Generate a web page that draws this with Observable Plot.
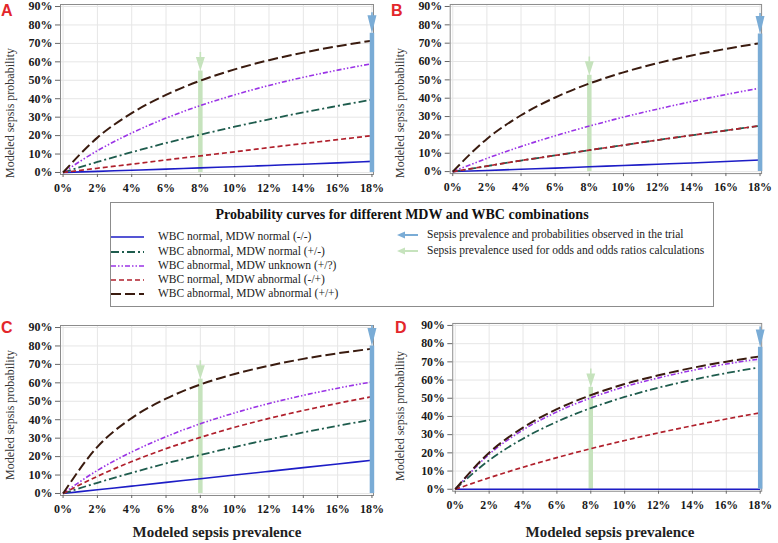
<!DOCTYPE html>
<html>
<head>
<meta charset="utf-8">
<script src="https://cdn.jsdelivr.net/npm/d3@7"></script>
<script src="https://cdn.jsdelivr.net/npm/@observablehq/plot@0.6"></script>
<style>
  html, body { margin: 0; padding: 0; background: #fff; }
  #wrap { position: relative; width: 778px; height: 543px; background: #fff; font-family: "Liberation Serif", "Times New Roman", serif; overflow: hidden; }
  .abs { position: absolute; }
  .plabel { position: absolute; font-family: "Liberation Sans", Arial, sans-serif; font-weight: bold; font-size: 16px; color: #e3262b; line-height: 1; }
  .ytitle { position: absolute; transform: translate(-50%, -50%) rotate(-90deg); white-space: nowrap; font-size: 12px; color: #333; line-height: 1; }
  .xtitle { position: absolute; transform: translateX(-50%); white-space: nowrap; font-size: 15px; font-weight: bold; color: #222; line-height: 1; }
  .leg { position: absolute; font-size: 11.5px; color: #222; white-space: nowrap; line-height: 1; transform: translateY(-50%); }
  svg text { font-family: "Liberation Serif", "Times New Roman", serif; }
</style>
</head>
<body>
<div id="wrap"></div>
<script>
// ---------- data (values in %) ----------
const prevalence = [0, 2, 4, 6, 8, 10, 12, 14, 16, 18];
const xTicks = [0, 2, 4, 6, 8, 10, 12, 14, 16, 18];
const yTicks = [0, 10, 20, 30, 40, 50, 60, 70, 80, 90];

const seriesKeys = ["negNeg", "posNeg", "posUnk", "negPos", "posPos"];
const seriesLabels = [
  "WBC normal, MDW normal (-/-)",
  "WBC abnormal, MDW normal (+/-)",
  "WBC abnormal, MDW unknown (+/?)",
  "WBC normal, MDW abnormal (-/+)",
  "WBC abnormal, MDW abnormal (+/+)"
];
const arrowLabels = [
  "Sepsis prevalence and probabilities observed in the trial",
  "Sepsis prevalence used for odds and odds ratios calculations"
];
const panelNames = ["A", "B", "C", "D"];

// Panel A
const A_negNeg = [0, 0.6, 1.2, 1.8, 2.5, 3.1, 3.8, 4.5, 5.2, 6.0];
const A_posNeg = [0, 5.7, 11.0, 16.0, 20.5, 24.8, 28.8, 32.6, 36.1, 39.5];
const A_posUnk = [0, 11.8, 21.4, 29.5, 36.3, 42.1, 47.2, 51.6, 55.5, 59.0];
const A_negPos = [0, 2.3, 4.5, 6.8, 9.0, 11.2, 13.5, 15.7, 17.8, 20.0];
const A_posPos = [0, 18.9, 32.2, 42.1, 49.8, 55.9, 60.9, 65.0, 68.5, 71.5];
// Panel B
const B_negNeg = [0, 0.6, 1.3, 1.9, 2.6, 3.3, 4.0, 4.7, 5.5, 6.3];
const B_posNeg = [0, 3.0, 6.0, 8.8, 11.7, 14.4, 17.2, 19.8, 22.4, 25.0];
const B_posUnk = [0, 7.2, 13.7, 19.5, 24.8, 29.7, 34.1, 38.2, 42.0, 45.5];
const B_negPos = [0, 3.0, 6.0, 8.8, 11.7, 14.4, 17.2, 19.8, 22.4, 25.0];
const B_posPos = [0, 17.8, 30.7, 40.4, 48.0, 54.1, 59.1, 63.3, 66.9, 70.0];
// Panel C
const C_negNeg = [0, 2.0, 4.0, 6.0, 8.0, 10.0, 12.0, 14.0, 16.0, 18.0];
const C_posNeg = [0, 5.8, 11.2, 16.3, 20.9, 25.2, 29.3, 33.1, 36.7, 40.0];
const C_posUnk = [0, 12.5, 22.5, 30.8, 37.8, 43.7, 48.8, 53.2, 57.1, 60.5];
const C_negPos = [0, 9.3, 17.3, 24.3, 30.4, 35.9, 40.7, 45.0, 48.9, 52.5];
const C_posPos = [0, 25.3, 40.9, 51.4, 59.1, 64.8, 69.3, 73.0, 76.0, 78.5];
// Panel D
const D_negNeg = [0, 0, 0, 0, 0, 0, 0, 0, 0, 0];
const D_posNeg = [0, 15.9, 27.8, 37.1, 44.6, 50.7, 55.8, 60.1, 63.8, 67.0];
const D_posUnk = [0, 19.2, 32.6, 42.5, 50.2, 56.3, 61.2, 65.3, 68.8, 71.6];
const D_negPos = [0, 6.3, 12.1, 17.4, 22.3, 26.8, 31.0, 34.9, 38.6, 42.0];
const D_posPos = [0, 20.1, 33.9, 44.0, 51.7, 57.8, 62.6, 66.7, 70.1, 73.0];

// arrows: x position (prevalence %) and tip height (%)
const observedPrev = 18;
const oddsPrev = 8;
const observedTip = [75.5, 75.0, 80.0, 78.0];
const oddsTip = [55.0, 52.5, 62.0, 56.0];

// ---------- styles ----------
const serif = "'Liberation Serif', 'Times New Roman', serif";
const lineStyles = {
  negNeg: {stroke: "#1d1dc6", dash: null, width: 1.6},
  posNeg: {stroke: "#1e5c4d", dash: "8,3,2,3", width: 1.8},
  posUnk: {stroke: "#9a33e6", dash: "5,2,1.5,2,1.5,2", width: 1.6},
  negPos: {stroke: "#b0202c", dash: "5,3", width: 1.7},
  posPos: {stroke: "#3a1b0f", dash: "10,4", width: 2}
};
const blueArrow = "#7aacd6";
const greenArrow = "#c6e3bd";

const panelSeries = {
  A: {negNeg: A_negNeg, posNeg: A_posNeg, posUnk: A_posUnk, negPos: A_negPos, posPos: A_posPos},
  B: {negNeg: B_negNeg, posNeg: B_posNeg, posUnk: B_posUnk, negPos: B_negPos, posPos: B_posPos},
  C: {negNeg: C_negNeg, posNeg: C_posNeg, posUnk: C_posUnk, negPos: C_negPos, posPos: C_posPos},
  D: {negNeg: D_negNeg, posNeg: D_posNeg, posUnk: D_posUnk, negPos: D_negPos, posPos: D_posPos}
};

function downArrowHead(w, h, shaft) {
  return {
    draw(ctx) {
      ctx.moveTo(-w / 2, -h);
      ctx.lineTo(w / 2, -h);
      ctx.lineTo(0, 0);
      ctx.closePath();
      if (shaft) {
        ctx.moveTo(-0.8, -h);
        ctx.lineTo(-0.8, -h - shaft);
        ctx.lineTo(0.8, -h - shaft);
        ctx.lineTo(0.8, -h);
        ctx.closePath();
      }
    }
  };
}

function makePanel(name, idx) {
  const s = panelSeries[name];
  const marks = [
    Plot.gridX(xTicks, {stroke: "#e6e6e6", strokeOpacity: 1}),
    Plot.gridY(yTicks, {stroke: "#e6e6e6", strokeOpacity: 1}),
    Plot.frame({stroke: "#8c8c8c"}),
    Plot.axisY(yTicks, {tickFormat: d => d + "%", tickSize: 5, tickPadding: 3, stroke: "#666", label: null,
      fontFamily: serif, fontWeight: "bold", fontSize: 12, fill: "#1a1a1a"}),
    Plot.axisX(xTicks, {tickFormat: d => d + "%", tickSize: 3, tickPadding: 6, stroke: "#666", label: null,
      fontFamily: serif, fontWeight: "bold", fontSize: 12, fill: "#1a1a1a"}),
    // odds-calculation prevalence arrow (green)
    Plot.ruleX([{x: oddsPrev, tip: oddsTip[idx]}], {x: "x", y1: 0, y2: "tip", stroke: greenArrow, strokeWidth: 4.5}),
    Plot.dot([{x: oddsPrev, tip: oddsTip[idx]}], {x: "x", y: "tip", symbol: downArrowHead(9, 14, 5), fill: greenArrow, stroke: null, r: 5})
  ];
  for (const k of seriesKeys) {
    const st = lineStyles[k];
    const rows = prevalence.map((p, i) => ({p, v: s[k][i]}));
    marks.push(Plot.line(rows, {
      x: "p", y: "v", stroke: st.stroke, strokeWidth: st.width,
      strokeDasharray: st.dash, curve: "monotone-x", strokeLinecap: "butt"
    }));
  }
  // observed prevalence arrow (blue)
  marks.push(
    Plot.ruleX([{x: observedPrev, tip: observedTip[idx]}], {x: "x", y1: 0, y2: "tip", stroke: blueArrow, strokeWidth: 4.5}),
    Plot.dot([{x: observedPrev, tip: observedTip[idx]}], {x: "x", y: "tip", symbol: downArrowHead(9, 18, 3), fill: blueArrow, stroke: null, r: 5})
  );
  return Plot.plot({
    width: 390, height: 200,
    marginLeft: 60, marginRight: 17, marginTop: 4, marginBottom: 26,
    x: {domain: [-0.15, 18.09]},
    y: {domain: [-1.1, 91.1]},
    style: {fontFamily: serif, fontSize: "12px", fontWeight: "bold", color: "#1a1a1a", background: "transparent", overflow: "visible"},
    marks
  });
}

const wrap = document.getElementById("wrap");
const pos = {A: [0, 0], B: [390, 0], C: [0, 321], D: [393, 319]};
panelNames.forEach((n, i) => {
  const d = document.createElement("div");
  d.className = "abs";
  d.style.left = pos[n][0] + "px";
  d.style.top = pos[n][1] + "px";
  d.appendChild(makePanel(n, i));
  wrap.appendChild(d);
});

function addDiv(cls, text, css) {
  const d = document.createElement("div");
  d.className = cls;
  d.textContent = text;
  Object.assign(d.style, css);
  wrap.appendChild(d);
  return d;
}

// panel letters
addDiv("plabel", "A", {left: "1px", top: "3px"});
addDiv("plabel", "B", {left: "391px", top: "3px"});
addDiv("plabel", "C", {left: "1px", top: "320px"});
addDiv("plabel", "D", {left: "395px", top: "320px"});

// y titles
addDiv("ytitle", "Modeled sepsis probability", {left: "10px", top: "113px"});
addDiv("ytitle", "Modeled sepsis probability", {left: "400px", top: "113px"});
addDiv("ytitle", "Modeled sepsis probability", {left: "10px", top: "415px"});
addDiv("ytitle", "Modeled sepsis probability", {left: "400px", top: "416px"});

// x titles
addDiv("xtitle", "Modeled sepsis prevalence", {left: "217px", top: "525px"});
addDiv("xtitle", "Modeled sepsis prevalence", {left: "610px", top: "525px"});

// legend box
const box = document.createElement("div");
Object.assign(box.style, {position: "absolute", left: "110px", top: "202px", width: "604px", height: "105px", border: "1px solid #8c8c8c", boxSizing: "border-box"});
wrap.appendChild(box);
addDiv("abs", "Probability curves for different MDW and WBC combinations",
  {left: "152px", width: "500px", top: "207px", textAlign: "center", fontWeight: "bold", fontSize: "14px", color: "#111", whiteSpace: "nowrap"});

const legY = [237, 252, 266, 280, 294];
const ns = "http://www.w3.org/2000/svg";
seriesKeys.forEach((k, i) => {
  const st = lineStyles[k];
  const svg = document.createElementNS(ns, "svg");
  svg.setAttribute("width", 34); svg.setAttribute("height", 6);
  Object.assign(svg.style, {position: "absolute", left: "111px", top: (legY[i] - 3) + "px"});
  const l = document.createElementNS(ns, "line");
  l.setAttribute("x1", 0); l.setAttribute("x2", 33); l.setAttribute("y1", 3); l.setAttribute("y2", 3);
  l.setAttribute("stroke", st.stroke); l.setAttribute("stroke-width", st.width);
  if (st.dash) l.setAttribute("stroke-dasharray", st.dash);
  svg.appendChild(l);
  wrap.appendChild(svg);
  addDiv("leg", seriesLabels[i], {left: "158px", top: legY[i] + "px"});
});

const arrY = [235, 251];
[blueArrow, greenArrow].forEach((c, i) => {
  const svg = document.createElementNS(ns, "svg");
  svg.setAttribute("width", 22); svg.setAttribute("height", 10);
  Object.assign(svg.style, {position: "absolute", left: "397px", top: (arrY[i] - 5) + "px"});
  const p = document.createElementNS(ns, "path");
  p.setAttribute("d", "M0,5 L8,1.5 L8,4 L21,4 L21,6 L8,6 L8,8.5 Z");
  p.setAttribute("fill", c);
  svg.appendChild(p);
  wrap.appendChild(svg);
  addDiv("leg", arrowLabels[i], {left: "427px", top: arrY[i] + "px"});
});
</script>
</body>
</html>
